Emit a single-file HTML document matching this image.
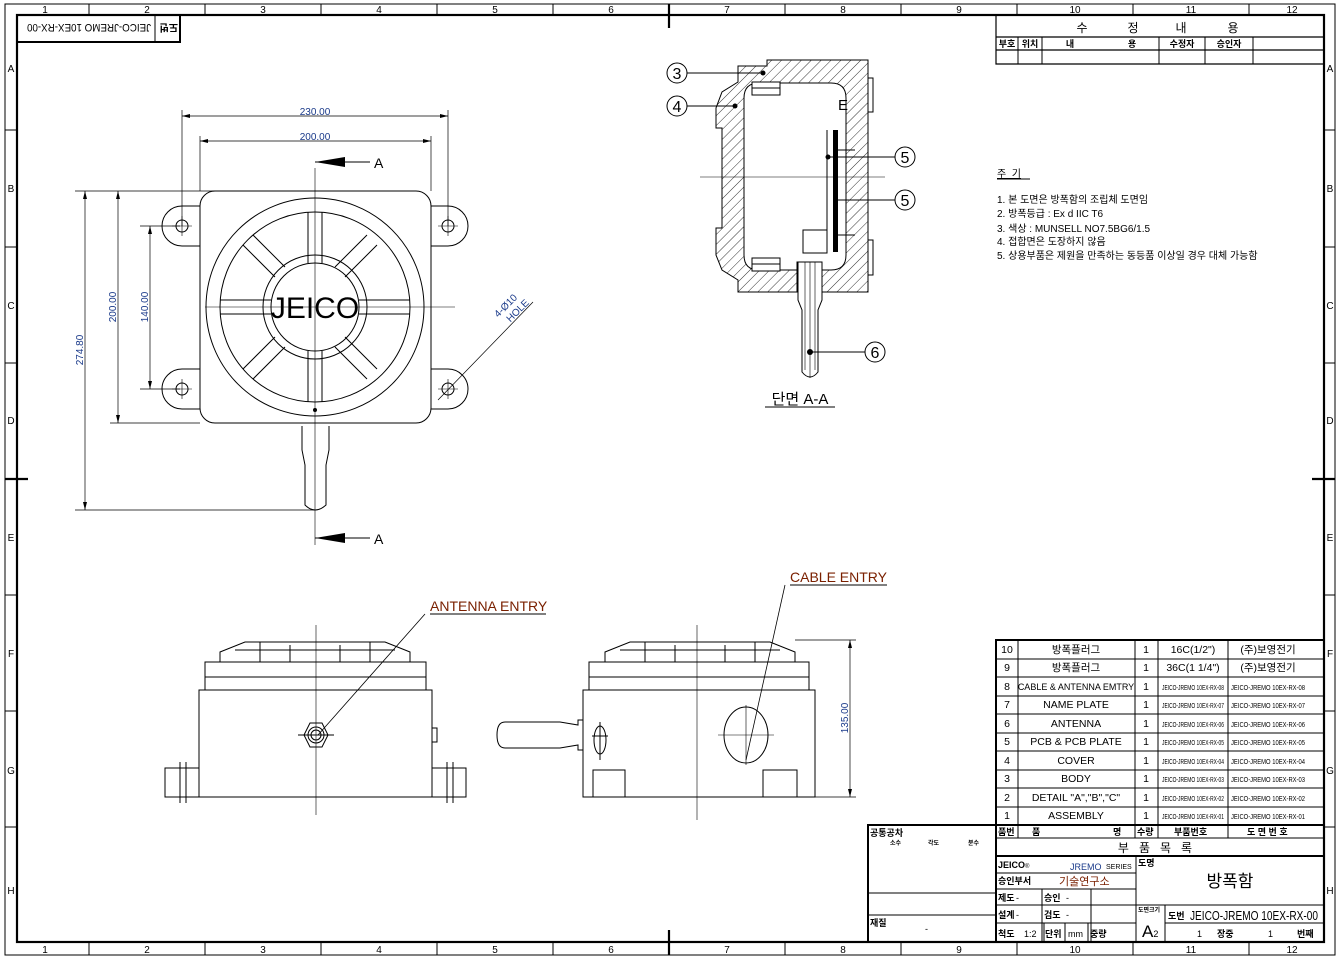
<!DOCTYPE html>
<html><head><meta charset="utf-8"><style>
html,body{margin:0;padding:0;background:#fff}
svg{display:block}
text{font-family:"Liberation Sans","Noto Sans CJK KR",sans-serif;fill:#000}
.b{fill:#1a3a8a}
</style></head><body>
<svg width="1341" height="958" viewBox="0 0 1341 958" xmlns="http://www.w3.org/2000/svg">
<defs>
<pattern id="h" width="7" height="7" patternUnits="userSpaceOnUse" patternTransform="rotate(45)">
<line x1="0" y1="0" x2="0" y2="7" stroke="#000" stroke-width="0.8"/></pattern>
</defs>
<g fill="none" stroke="#000">
<rect x="5" y="4" width="1330" height="951" stroke-width="1"/>
<rect x="17" y="15" width="1307" height="927" stroke-width="2.2"/>
<g stroke-width="1">
<path d="M89 4V15M205 4V15M321 4V15M437 4V15M553 4V15M785 4V15M901 4V15M1017 4V15M1133 4V15M1249 4V15"/>
<path d="M89 942V955M205 942V955M321 942V955M437 942V955M553 942V955M785 942V955M901 942V955M1017 942V955M1133 942V955M1249 942V955"/>
<path d="M5 130H17M5 247H17M5 363H17M5 595H17M5 711H17M5 827H17M1324 130H1335M1324 247H1335M1324 363H1335M1324 595H1335M1324 711H1335M1324 827H1335"/>
</g>
<path d="M669 4V28M669 930V955M5 479H28M1312 479H1335" stroke-width="2.2"/>
</g>
<g font-size="10" text-anchor="middle">
<text x="45" y="13">1</text><text x="147" y="13">2</text><text x="263" y="13">3</text><text x="379" y="13">4</text><text x="495" y="13">5</text><text x="611" y="13">6</text><text x="727" y="13">7</text><text x="843" y="13">8</text><text x="959" y="13">9</text><text x="1075" y="13">10</text><text x="1191" y="13">11</text><text x="1292" y="13">12</text>
<text x="45" y="953">1</text><text x="147" y="953">2</text><text x="263" y="953">3</text><text x="379" y="953">4</text><text x="495" y="953">5</text><text x="611" y="953">6</text><text x="727" y="953">7</text><text x="843" y="953">8</text><text x="959" y="953">9</text><text x="1075" y="953">10</text><text x="1191" y="953">11</text><text x="1292" y="953">12</text>
<text x="11" y="72">A</text><text x="11" y="192">B</text><text x="11" y="309">C</text><text x="11" y="424">D</text><text x="11" y="541">E</text><text x="11" y="657">F</text><text x="11" y="774">G</text><text x="11" y="894">H</text>
<text x="1330" y="72">A</text><text x="1330" y="192">B</text><text x="1330" y="309">C</text><text x="1330" y="424">D</text><text x="1330" y="541">E</text><text x="1330" y="657">F</text><text x="1330" y="774">G</text><text x="1330" y="894">H</text>
</g>
<rect x="17" y="15" width="163" height="27" fill="none" stroke="#000" stroke-width="2"/>
<line x1="155" y1="15" x2="155" y2="42" stroke="#000"/>
<g transform="rotate(180 98.5 28.5)"><text x="19" y="33" font-size="10" font-weight="bold">도번</text><text x="46" y="33" font-size="11" textLength="124" lengthAdjust="spacingAndGlyphs">JEICO-JREMO 10EX-RX-00</text></g>

<g fill="none" stroke="#000">
<path d="M996 15V64H1324M996 37H1324M996 50H1324" stroke-width="1.2"/>
<path d="M1018 37V64M1042 37V64M1159 37V64M1205 37V64M1253 37V64"/>
</g>
<g font-size="12" text-anchor="middle"><text x="1082" y="32">수</text><text x="1133" y="32">정</text><text x="1181" y="32">내</text><text x="1233" y="32">용</text></g>
<g font-size="9" font-weight="bold" text-anchor="middle"><text x="1007" y="47">부호</text><text x="1030" y="47">위치</text><text x="1070" y="47">내</text><text x="1132" y="47">용</text><text x="1182" y="47">수정자</text><text x="1229" y="47">승인자</text></g>

<g font-size="10"><text x="997" y="177" text-decoration="underline">주 &#160;기</text>
<text x="997" y="203">1. 본 도면은 방폭함의 조립체 도면임</text>
<text x="997" y="217">2. 방폭등급 : Ex d IIC T6</text>
<text x="997" y="232">3. 색상 : MUNSELL NO7.5BG6/1.5</text>
<text x="997" y="245">4. 접합면은 도장하지 않음</text>
<text x="997" y="259">5. 상용부품은 제원을 만족하는 동등품 이상일 경우 대체 가능함</text></g>
<line x1="997" y1="179" x2="1030" y2="179" stroke="#000"/>

<g fill="none" stroke="#000" stroke-width="1">
<path d="M200 206H182A20 20 0 0 0 182 246H200M431 206H448A20 20 0 0 1 448 246H431M200 369H182A20 20 0 0 0 182 409H200M431 369H448A20 20 0 0 1 448 409H431"/>
<circle cx="182" cy="226" r="6"/><circle cx="448" cy="226" r="6"/><circle cx="182" cy="389" r="6"/><circle cx="448" cy="389" r="6"/>
<path d="M172 226H192M182 216V236M438 226H458M448 216V236M172 389H192M182 379V399M438 389H458M448 379V399" stroke-width="0.6"/>
<rect x="200" y="191" width="231" height="232" rx="15"/>
<circle cx="315" cy="307" r="109"/><circle cx="315" cy="307" r="95"/><circle cx="315" cy="307" r="52"/><circle cx="315" cy="307" r="44"/>
<path d="M308 212V263M322 212V263M308 351V402M322 351V402M220 300H271M220 314H271M359 300H410M359 314H410"/>
<path d="M243 245L275 277M253 235L285 267M377 245L345 277M367 235L335 267M243 369L275 337M253 379L285 347M377 369L345 337M367 379L335 347"/>
<path d="M300 423H330M302 426V450L305 465V505Q315 515 326 505V465L329 450V426"/>
<path d="M315 168V545M205 307H455" stroke-width="0.6"/>
<path d="M182 110V226M448 110V226M200 136V191M431 136V191M182 116H448M200 141H431" stroke-width="0.7"/>
<path d="M75 191H230M75 510H315M110 423H200M140 226H180M140 389H180M85 191V510M118 191V423M150 226V389" stroke-width="0.7"/>
<path d="M315 162H370M315 538H370"/>
<path d="M438 400L533 302" stroke-width="0.7"/>
</g>
<g fill="#000"><path d="M315 162L345 157V167Z"/><path d="M315 538L345 533V543Z"/><circle cx="315" cy="410" r="2"/>
<path d="M182 116l8-2v4zM448 116l-8-2v4zM200 141l8-2v4zM431 141l-8-2v4zM85 191l-2 8h4zM85 510l-2-8h4zM118 191l-2 8h4zM118 423l-2-8h4zM150 226l-2 8h4zM150 389l-2-8h4z"/></g>
<text x="374" y="168" font-size="14">A</text><text x="374" y="544" font-size="14">A</text>
<text x="315" y="318" font-size="30" text-anchor="middle">JEICO</text>
<g font-size="10" class="b" text-anchor="middle"><text x="315" y="115" class="b">230.00</text><text x="315" y="140" class="b">200.00</text>
<text transform="translate(83 350) rotate(-90)" class="b">274.80</text><text transform="translate(116 307) rotate(-90)" class="b">200.00</text><text transform="translate(148 307) rotate(-90)" class="b">140.00</text>
<text transform="translate(508 308) rotate(-45)" class="b">4-Ø10</text><text transform="translate(520 313) rotate(-45)" class="b">HOLE</text></g>

<path fill="url(#h)" fill-rule="evenodd" stroke="#000" d="M767 60H868V292H822V262H797V292H738V280L722 270L716 255V228H722V128H716V108L722 92L738 82V66H767ZM759 83H831Q846 83 846 98V255Q846 270 831 270H759Q744 270 744 255V98Q744 83 759 83Z"/>
<g fill="none" stroke="#000">
<path d="M868 78H873V112H868M868 240H873V275H868"/>
<rect x="752" y="82" width="28" height="13" fill="#fff"/><rect x="752" y="258" width="28" height="13" fill="#fff"/>
<path d="M752 88H780M752 264H780"/>
<path d="M827 130V250"/>
<rect x="803" y="230" width="24" height="23" fill="#fff"/>
<path d="M700 177H885" stroke-width="0.6"/>
<path d="M798 262H822V300L818 310V372Q810 382 802 372V310L798 300Z" fill="#fff"/>
<path d="M805 262V370M815 262V370M810 262V378" stroke-width="0.6"/>
<path d="M838 150H855M838 235H855"/>
<path d="M687 73H763M687 106H735M895 157H828M895 200H835M865 352H810"/>
<circle cx="677" cy="73" r="10"/><circle cx="677" cy="106" r="10"/><circle cx="905" cy="157" r="10"/><circle cx="905" cy="200" r="10"/><circle cx="875" cy="352" r="10"/>
</g>
<rect x="833" y="130" width="5" height="122" fill="#000"/>
<g fill="#000"><circle cx="763" cy="73" r="2.5"/><circle cx="735" cy="106" r="2.5"/><circle cx="828" cy="157" r="2.5"/><circle cx="835" cy="200" r="2"/><circle cx="810" cy="352" r="3"/></g>
<g font-size="16" text-anchor="middle"><text x="677" y="79">3</text><text x="677" y="112">4</text><text x="905" y="163">5</text><text x="905" y="206">5</text><text x="875" y="358">6</text></g>
<text x="838" y="110" font-size="15">E</text>
<text x="800" y="404" font-size="15" text-anchor="middle">단면 A-A</text>
<line x1="765" y1="407" x2="835" y2="407" stroke="#000"/>

<g fill="none" stroke="#000">
<rect x="199" y="690" width="233" height="107"/><rect x="205" y="662" width="221" height="28"/><path d="M205 677H426"/>
<path d="M220 662V652L245 642H385L410 652V662M235 650H395M260 642V662M370 642V662M290 645V662M340 645V662"/>
<rect x="165" y="768" width="34" height="29"/><rect x="432" y="768" width="34" height="29"/>
<path d="M180 762V803M186 762V803M447 762V803M453 762V803M199 797H220M410 797H432"/>
<path d="M316 625V815" stroke-width="0.6"/>
<path d="M304 735L310 723H322L328 735L322 747H310Z"/><circle cx="316" cy="735" r="8"/><circle cx="316" cy="735" r="5"/><path d="M298 735H334"/>
<rect x="432" y="728" width="5" height="14"/>
<rect x="583" y="690" width="232" height="107"/><rect x="589" y="662" width="220" height="28"/><path d="M589 677H809"/>
<path d="M605 662V652L630 642H770L795 652V662M620 650H780M645 642V662M755 642V662M675 645V662M725 645V662"/>
<rect x="593" y="770" width="32" height="27"/><rect x="763" y="770" width="34" height="27"/>
<path d="M697 625V820" stroke-width="0.6"/>
<path d="M583 720H578V725L560 722H505Q497 722 497 735Q497 748 505 748H560L578 745V750H583"/>
<ellipse cx="746" cy="735" rx="22" ry="28"/><path d="M718 735H774M746 705V765" stroke-width="0.6"/>
<ellipse cx="600" cy="740" rx="6" ry="14"/><path d="M592 736H608M600 722V760"/>
<path d="M795 640H856M815 797H856M850 640V797" stroke-width="0.7"/>
<path d="M425 614L318 735M785 585L746 760" stroke-width="0.8"/>
<path d="M430 614H546M790 585H887"/>
</g>
<g fill="#000"><path d="M850 640l-2 8h4zM850 797l-2-8h4z"/></g>
<text transform="translate(848 718) rotate(-90)" font-size="10" class="b" text-anchor="middle">135.00</text>
<text x="430" y="611" font-size="14" style="fill:#7a2000">ANTENNA ENTRY</text>
<text x="790" y="582" font-size="14" style="fill:#7a2000">CABLE ENTRY</text>

<g fill="none" stroke="#000">
<rect x="996" y="640" width="328" height="302" stroke-width="2"/>
<path d="M996 659H1324M996 677H1324M996 696H1324M996 714H1324M996 733H1324M996 751H1324M996 770H1324M996 788H1324M996 807H1324"/>
<path d="M996 825H1324M996 856H1324" stroke-width="2"/>
<path d="M996 838H1324"/>
<path d="M1018 640V838M1135 640V838M1158 640V838M1228 640V838"/>
<path d="M1136 856V942M996 873H1136M996 889H1136M996 905H1324M996 923H1136M1165 923H1324M1165 905V942M1042 889V942M1091 889V942M1044 923V942M1065 923V942M1088 923V942"/>
<rect x="868" y="825" width="128" height="117" stroke-width="2"/>
<path d="M868 893H996M868 915H996"/>
</g>
<g font-size="10.5" text-anchor="middle">
<text x="1007" y="653">10</text><text x="1076" y="653">방폭플러그</text><text x="1146" y="653">1</text><text x="1193" y="653">16C(1/2")</text><text x="1268" y="653">(주)보영전기</text>
<text x="1007" y="671">9</text><text x="1076" y="671">방폭플러그</text><text x="1146" y="671">1</text><text x="1193" y="671">36C(1 1/4")</text><text x="1268" y="671">(주)보영전기</text>
<text x="1007" y="690">8</text><text x="1076" y="690" font-size="9">CABLE &amp; ANTENNA EMTRY</text><text x="1146" y="690">1</text>
<text x="1007" y="708">7</text><text x="1076" y="708">NAME PLATE</text><text x="1146" y="708">1</text>
<text x="1007" y="727">6</text><text x="1076" y="727">ANTENNA</text><text x="1146" y="727">1</text>
<text x="1007" y="745">5</text><text x="1076" y="745">PCB &amp; PCB PLATE</text><text x="1146" y="745">1</text>
<text x="1007" y="764">4</text><text x="1076" y="764">COVER</text><text x="1146" y="764">1</text>
<text x="1007" y="782">3</text><text x="1076" y="782">BODY</text><text x="1146" y="782">1</text>
<text x="1007" y="801">2</text><text x="1076" y="801">DETAIL "A","B","C"</text><text x="1146" y="801">1</text>
<text x="1007" y="819">1</text><text x="1076" y="819">ASSEMBLY</text><text x="1146" y="819">1</text>
</g>
<g font-size="7" text-anchor="middle">
<text x="1193" y="690" textLength="62" lengthAdjust="spacingAndGlyphs">JEICO-JREMO 10EX-RX-08</text><text x="1268" y="690" textLength="74" lengthAdjust="spacingAndGlyphs">JEICO-JREMO 10EX-RX-08</text>
<text x="1193" y="708" textLength="62" lengthAdjust="spacingAndGlyphs">JEICO-JREMO 10EX-RX-07</text><text x="1268" y="708" textLength="74" lengthAdjust="spacingAndGlyphs">JEICO-JREMO 10EX-RX-07</text>
<text x="1193" y="727" textLength="62" lengthAdjust="spacingAndGlyphs">JEICO-JREMO 10EX-RX-06</text><text x="1268" y="727" textLength="74" lengthAdjust="spacingAndGlyphs">JEICO-JREMO 10EX-RX-06</text>
<text x="1193" y="745" textLength="62" lengthAdjust="spacingAndGlyphs">JEICO-JREMO 10EX-RX-05</text><text x="1268" y="745" textLength="74" lengthAdjust="spacingAndGlyphs">JEICO-JREMO 10EX-RX-05</text>
<text x="1193" y="764" textLength="62" lengthAdjust="spacingAndGlyphs">JEICO-JREMO 10EX-RX-04</text><text x="1268" y="764" textLength="74" lengthAdjust="spacingAndGlyphs">JEICO-JREMO 10EX-RX-04</text>
<text x="1193" y="782" textLength="62" lengthAdjust="spacingAndGlyphs">JEICO-JREMO 10EX-RX-03</text><text x="1268" y="782" textLength="74" lengthAdjust="spacingAndGlyphs">JEICO-JREMO 10EX-RX-03</text>
<text x="1193" y="801" textLength="62" lengthAdjust="spacingAndGlyphs">JEICO-JREMO 10EX-RX-02</text><text x="1268" y="801" textLength="74" lengthAdjust="spacingAndGlyphs">JEICO-JREMO 10EX-RX-02</text>
<text x="1193" y="819" textLength="62" lengthAdjust="spacingAndGlyphs">JEICO-JREMO 10EX-RX-01</text><text x="1268" y="819" textLength="74" lengthAdjust="spacingAndGlyphs">JEICO-JREMO 10EX-RX-01</text>
</g>
<g font-size="9" font-weight="bold"><text x="998" y="835">품번</text><text x="1032" y="835">품</text><text x="1113" y="835">명</text><text x="1137" y="835">수량</text><text x="1174" y="835">부품번호</text><text x="1247" y="835">도 면 번 호</text></g>
<text x="1160" y="852" font-size="12" text-anchor="middle" letter-spacing="10">부품목록</text>
<text x="998" y="868" font-size="9" font-weight="bold" font-family="Liberation Serif">JEICO<tspan font-size="6" font-weight="normal">®</tspan></text>
<text x="1070" y="870" font-size="9" style="fill:#1a3a8a">JREMO</text><text x="1106" y="869" font-size="7">SERIES</text>
<g font-size="9" font-weight="bold"><text x="998" y="884">승인부서</text><text x="998" y="901">제도</text><text x="1044" y="901">승인</text><text x="998" y="918">설계</text><text x="1044" y="918">검도</text><text x="998" y="937">척도</text><text x="1045" y="937">단위</text><text x="1090" y="937">중량</text><text x="1138" y="866">도명</text><text x="1138" y="912" font-size="6">도면크기</text><text x="1168" y="919">도번</text><text x="1217" y="937">장중</text><text x="1297" y="937">번째</text><text x="870" y="836">공통공차</text><text x="870" y="926">재질</text></g>
<g font-size="6" font-weight="bold"><text x="890" y="845">소수</text><text x="928" y="845">각도</text><text x="968" y="845">분수</text></g>
<text x="1059" y="885" font-size="11" style="fill:#7a2000">기술연구소</text>
<g font-size="9"><text x="1016" y="901">-</text><text x="1066" y="901">-</text><text x="1016" y="918">-</text><text x="1066" y="918">-</text><text x="1024" y="937">1:2</text><text x="1068" y="937">mm</text><text x="1197" y="937">1</text><text x="1268" y="937">1</text><text x="925" y="932">-</text></g>
<text x="1230" y="887" font-size="17" text-anchor="middle">방폭함</text>
<text x="1142" y="937" font-size="17">A<tspan font-size="9">2</tspan></text>
<text x="1190" y="920" font-size="13" textLength="128" lengthAdjust="spacingAndGlyphs">JEICO-JREMO 10EX-RX-00</text>
</svg>
</body></html>
